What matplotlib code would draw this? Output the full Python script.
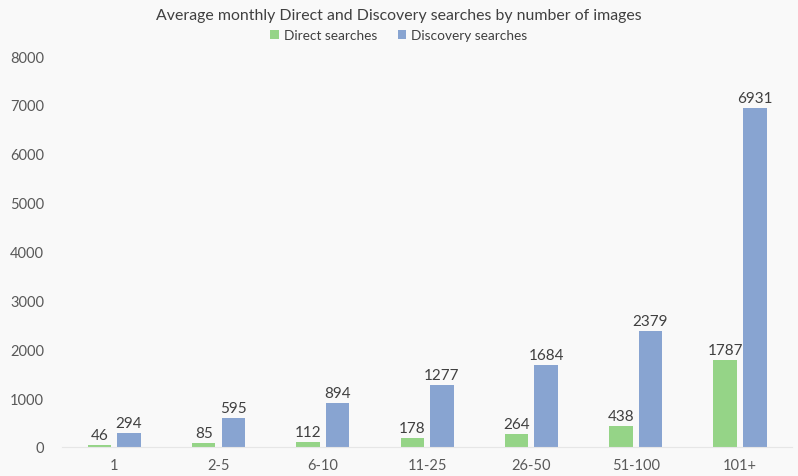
import numpy as np
import matplotlib.pyplot as plt

plt.rcParams['font.family'] = ['Lato', 'DejaVu Sans']

# data
categories = ['1', '2-5', '6-10', '11-25', '26-50', '51-100', '101+']
direct = [46, 85, 112, 178, 264, 438, 1787]
discovery = [294, 595, 894, 1277, 1684, 2379, 6931]

green = '#95d487'
blue = '#88a4d1'
bg = '#f9f9f9'
txt = '#404040'

fig = plt.figure(figsize=(7.98, 4.77), dpi=100, facecolor=bg)
ax = fig.add_axes([0.0777, 0.0608, 0.915, 0.8197], facecolor=bg)

x = np.arange(len(categories))
w = 0.225
b1 = ax.bar(x - 0.142, direct, w, color=green, label='Direct searches')
b2 = ax.bar(x + 0.142, discovery, w, color=blue, label='Discovery searches')

for bars in (b1, b2):
    for r in bars:
        ax.text(r.get_x() + r.get_width() / 2, r.get_height() + 60, str(int(r.get_height())),
                ha='center', va='bottom', fontsize=11, color=txt)

ax.set_xlim(-0.5, len(categories) - 0.5)
ax.set_ylim(0, 8000)
ax.set_yticks(range(0, 8001, 1000))
ax.set_xticks(x)
ax.set_xticklabels(categories)
ax.tick_params(axis='both', length=0, labelsize=10.5, colors='#595959')
ax.tick_params(axis='x', pad=8)
ax.tick_params(axis='y', pad=13)
for s in ['top', 'right', 'left']:
    ax.spines[s].set_visible(False)
ax.spines['bottom'].set_color('#e6e6e6')

fig.text(0.5, 0.966, 'Average monthly Direct and Discovery searches by number of images',
         ha='center', va='center', fontsize=11.4, color='#404040')
fig.legend(handles=[b1, b2], loc='center', bbox_to_anchor=(0.5, 0.924), ncol=2, frameon=False,
           fontsize=9.8, handlelength=0.6, handleheight=0.6, handletextpad=0.4, columnspacing=1.5,
           labelcolor='#404040')

fig.savefig('out.png', dpi=100, facecolor=bg)
